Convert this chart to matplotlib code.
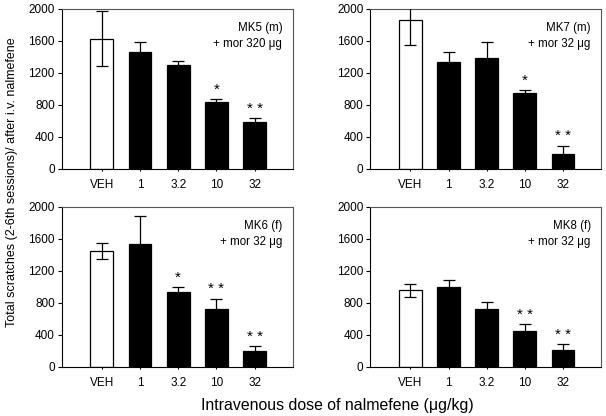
import matplotlib
matplotlib.use("Agg")
import matplotlib.pyplot as plt
import numpy as np

plt.rcParams['font.family'] = ['Liberation Sans', 'DejaVu Sans']

# doses of nalmefene (ug/kg)
doses = ['VEH', '1', '3.2', '10', '32']

# total scratches, mean and SEM for each monkey
mk5_mean = [1624, 1457, 1298, 835, 589]
mk5_err = [343, 125, 46, 33, 46]
mk5_stars = ['', '', '', '*', '**']

mk7_mean = [1858, 1340, 1386, 944, 184]
mk7_err = [305, 121, 196, 37, 108]
mk7_stars = ['', '', '', '*', '**']

mk6_mean = [1446, 1529, 938, 729, 196]
mk6_err = [98, 358, 62, 125, 66]
mk6_stars = ['', '', '*', '**', '**']

mk8_mean = [956, 1002, 718, 447, 209]
mk8_err = [84, 79, 96, 83, 71]
mk8_stars = ['', '', '', '**', '**']

panels = [
    ('MK5 (m)\n+ mor 320 \u03bcg', mk5_mean, mk5_err, mk5_stars),
    ('MK7 (m)\n+ mor 32 \u03bcg', mk7_mean, mk7_err, mk7_stars),
    ('MK6 (f)\n+ mor 32 \u03bcg', mk6_mean, mk6_err, mk6_stars),
    ('MK8 (f)\n+ mor 32 \u03bcg', mk8_mean, mk8_err, mk8_stars),
]

fig = plt.figure(figsize=(6.06, 4.16), dpi=100)
# axes boxes in figure fractions: [left, bottom, width, height]
boxes = [
    [0.102, 0.594, 0.381, 0.385],
    [0.611, 0.594, 0.381, 0.385],
    [0.102, 0.118, 0.381, 0.385],
    [0.611, 0.118, 0.381, 0.385],
]

for box, (label, mean, err, stars) in zip(boxes, panels):
    ax = fig.add_axes(box)
    x = np.arange(len(doses))
    colors = ['white'] + ['black'] * (len(doses) - 1)
    ax.bar(x, mean, width=0.6, color=colors, edgecolor='black', linewidth=0.9, zorder=2)
    ax.errorbar(x, mean, yerr=err, fmt='none', ecolor='black', elinewidth=0.9,
                capsize=4, capthick=0.9, zorder=3, clip_on=True)
    for xi, m, e, s in zip(x, mean, err, stars):
        if s:
            ax.text(xi, m + e + 30, ' '.join(s), ha='center', va='bottom', fontsize=11)
    ax.text(0.955, 0.92, label, transform=ax.transAxes, ha='right', va='top',
            fontsize=8.3, linespacing=1.45)
    ax.set_xlim(-1.05, 5.0)
    ax.set_ylim(0, 2000)
    ax.set_yticks(np.arange(0, 2001, 400))
    ax.set_xticks(x)
    ax.set_xticklabels(doses)
    ax.tick_params(axis='y', labelsize=8.5, length=3, width=0.8, pad=2)
    ax.tick_params(axis='x', labelsize=8.5, length=3, width=0.8, direction='inout', pad=6)
    for sp in ax.spines.values():
        sp.set_linewidth(0.8)
    for sp in ['top', 'right']:
        ax.spines[sp].set_color('#555555')

fig.text(0.019, 0.562, 'Total scratches (2-6th sessions)/ after i.v. nalmefene',
         rotation=90, ha='center', va='center', fontsize=9)
fig.text(0.556, 0.026, 'Intravenous dose of nalmefene (\u03bcg/kg)',
         ha='center', va='center', fontsize=11.4)

fig.savefig('out.png', dpi=100)
